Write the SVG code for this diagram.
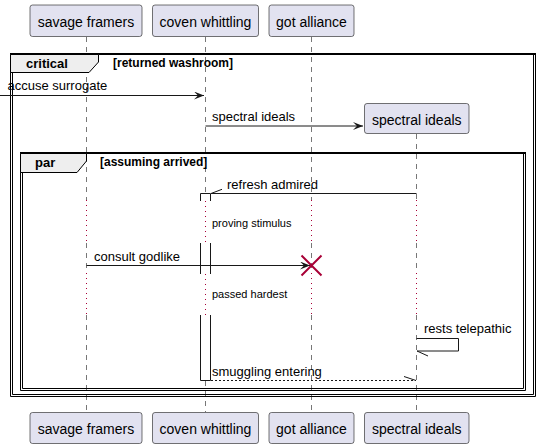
<svg xmlns="http://www.w3.org/2000/svg" width="539" height="448" viewBox="0 0 539 448">
<defs>
<style>
.pbox{fill:#E2E2F0;stroke:#181818;stroke-width:0.6}
.ptxt{font-family:"Liberation Sans",Arial,sans-serif;font-size:14px;fill:#000;text-anchor:middle}
.life{stroke:#777;stroke-width:1;stroke-dasharray:5,5;fill:none}
.dot{stroke:#A80036;stroke-width:1;stroke-dasharray:1,4;fill:none}
.msg{stroke:#181818;stroke-width:1;fill:none}
.mtxt{font-family:"Liberation Sans",Arial,sans-serif;font-size:13px;fill:#000}
.dtxt{font-family:"Liberation Sans",Arial,sans-serif;font-size:11px;fill:#000}
.frame{fill:none;stroke:#000;stroke-width:1}
.ftop{fill:none;stroke:#000;stroke-width:2}
.tab{fill:#EEEEEE;stroke:#000;stroke-width:1}
.ftxt{font-family:"Liberation Sans",Arial,sans-serif;font-size:13px;font-weight:bold;fill:#000}
.ctxt{font-family:"Liberation Sans",Arial,sans-serif;font-size:12px;font-weight:bold;fill:#000}
.act{fill:#FFFFFF;stroke:#181818;stroke-width:1}
</style>
<marker id="fa" viewBox="0 0 10 8" refX="10" refY="4" markerWidth="10" markerHeight="8" markerUnits="userSpaceOnUse" orient="auto">
<path d="M0,0 L10,4 L0,8 L4,4 Z" fill="#181818"/>
</marker>
</defs>

<g id="lifelines">
<path class="life" d="M86.5,37 V200 M86.5,243 V273 M86.5,315 V412"/>
<path class="dot" d="M86.5,200 V243 M86.5,273 V315"/>
<path class="life" d="M205.5,37 V193 M205.5,381 V412"/>
<path class="dot" d="M205.5,201 V243 M205.5,274 V315"/>
<path class="life" d="M311.5,37 V200 M311.5,243 V273 M311.5,315 V412"/>
<path class="dot" d="M311.5,200 V243 M311.5,273 V315"/>
<path class="life" d="M416.5,134 V200 M416.5,243 V273 M416.5,315 V412"/>
<path class="dot" d="M416.5,200 V243 M416.5,273 V315"/>
</g>

<g id="frame-critical">
<path class="frame" d="M10.5,54 V396.5 H535.5 V54"/>
<path class="frame" d="M12.5,54 V394.5 H533.5 V54"/>
<path class="ftop" d="M10,54 H536"/>
<path class="tab" d="M10.5,54.5 H98.5 V62 L89,72.5 H10.5 Z"/>
<text class="ftxt" x="26" y="68">critical</text>
<text class="ctxt" x="113" y="67">[returned washroom]</text>
</g>

<g id="frame-par">
<path class="frame" d="M20.5,153 V390.5 H525.5 V153"/>
<path class="frame" d="M22.5,153 V388.5 H523.5 V153"/>
<path class="ftop" d="M20,153 H526"/>
<path class="tab" d="M20.5,153.5 H86.5 V161 L77,172.5 H20.5 Z"/>
<text class="ftxt" x="35" y="167">par</text>
<text class="ctxt" x="100" y="166">[assuming arrived]</text>
</g>

<g id="activations">
<path class="act" d="M200.5,201 V193.5 H210.5 V201"/>
<rect x="200.5" y="243" width="10" height="31" fill="#fff" stroke="none"/>
<path class="msg" d="M200.5,243 V274 M210.5,243 V274"/>
<path class="act" d="M200.5,315 V380.5 H210.5 V315"/>
</g>

<g id="savage-framers">
<rect class="pbox" x="30" y="5" width="112" height="31.5" rx="2.5"/>
<text class="ptxt" x="86" y="26.5">savage framers</text>
<rect class="pbox" x="30" y="412.5" width="112" height="31" rx="2.5"/>
<text class="ptxt" x="86" y="433.5">savage framers</text>
</g>
<g id="coven-whittling">
<rect class="pbox" x="152.5" y="5" width="106" height="31.5" rx="2.5"/>
<text class="ptxt" x="205.5" y="26.5">coven whittling</text>
<rect class="pbox" x="152.5" y="412.5" width="106" height="31" rx="2.5"/>
<text class="ptxt" x="205.5" y="433.5">coven whittling</text>
</g>
<g id="got-alliance">
<rect class="pbox" x="269" y="5" width="85" height="31.5" rx="2.5"/>
<text class="ptxt" x="311.5" y="26.5">got alliance</text>
<rect class="pbox" x="269" y="412.5" width="85" height="31" rx="2.5"/>
<text class="ptxt" x="311.5" y="433.5">got alliance</text>
</g>
<g id="spectral-ideals">
<rect class="pbox" x="364.5" y="103.5" width="104.5" height="30" rx="2.5"/>
<text class="ptxt" x="416.8" y="124.5">spectral ideals</text>
<rect class="pbox" x="364.5" y="412.5" width="104.5" height="31" rx="2.5"/>
<text class="ptxt" x="416.8" y="433.5">spectral ideals</text>
</g>

<g id="connectors">
<path class="msg" d="M0,95.5 H204" marker-end="url(#fa)"/>
<text class="mtxt" x="7.5" y="89.5">accuse surrogate</text>

<path class="msg" d="M205.5,126 H363" marker-end="url(#fa)"/>
<text class="mtxt" x="212" y="121">spectral ideals</text>

<path class="msg" d="M416.5,193.5 H211 L222,189.3"/>
<text class="mtxt" x="227" y="188.5">refresh admired</text>

<text class="dtxt" x="212" y="226.5">proving stimulus</text>

<path class="msg" d="M86.5,265.5 H310" marker-end="url(#fa)"/>
<text class="mtxt" x="94" y="260.5">consult godlike</text>
<path d="M301.5,255.5 L321.5,275.5 M301.5,275.5 L321.5,255.5" stroke="#A80036" stroke-width="2" fill="none"/>

<text class="dtxt" x="212" y="298">passed hardest</text>

<path class="msg" d="M416.5,338.5 H458.5 V351 H417 L428,356"/>
<text class="mtxt" x="424" y="333">rests telepathic</text>

<path class="msg" d="M211,380.5 H416" stroke-dasharray="2,2"/>
<path class="msg" d="M404,376.5 L416,380.5"/>
<text class="mtxt" x="212" y="375.5">smuggling entering</text>
</g>
</svg>
